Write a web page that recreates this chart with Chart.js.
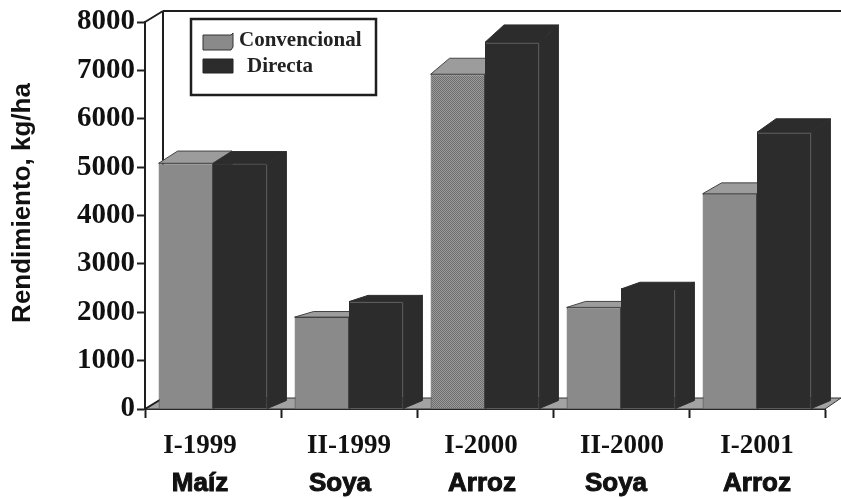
<!DOCTYPE html>
<html>
<head>
<meta charset="utf-8">
<title>Rendimiento</title>
<script src="https://cdn.jsdelivr.net/npm/chart.js@4"></script>
<style>
    html, body { margin: 0; padding: 0; background: #fff; }
    canvas { display: block; }
</style>
</head>
<body>
<canvas id="chart" width="841" height="498"></canvas>
<script>
const periods = ['I-1999', 'II-1999', 'I-2000', 'II-2000', 'I-2001'];
const crops = ['Maíz', 'Soya', 'Arroz', 'Soya', 'Arroz'];
const convencional = [5080, 1900, 6920, 2100, 4450];
const directa = [5070, 2220, 7580, 2480, 5720];
const yTicks = [0, 1000, 2000, 3000, 4000, 5000, 6000, 7000, 8000];

const INK = '#1e1e1e';
const DARK = '#2c2c2c';
const SERIF = '"Liberation Serif", serif';
const SANS = '"Liberation Sans", sans-serif';
// the x labels in the picture are not quite centred on their groups
const labelShift = { x: [-13, 0, -4, 1, 0], x2: [-13, -9, -3, -5, 0] };

function line(ctx, x1, y1, x2, y2) {
    ctx.beginPath();
    ctx.moveTo(x1, y1);
    ctx.lineTo(x2, y2);
    ctx.stroke();
}

function poly(ctx, pts, fill, stroke) {
    ctx.beginPath();
    pts.forEach((p, i) => (i ? ctx.lineTo(p[0], p[1]) : ctx.moveTo(p[0], p[1])));
    ctx.closePath();
    ctx.fillStyle = fill;
    ctx.fill();
    if (stroke) {
        ctx.strokeStyle = stroke;
        ctx.lineWidth = 1;
        ctx.stroke();
    }
}

// the third grey bar is printed with a visible dither
function ditherFill() {
    const tile = document.createElement('canvas');
    tile.width = tile.height = 2;
    const c = tile.getContext('2d');
    c.fillStyle = '#9a9a9a';
    c.fillRect(0, 0, 2, 2);
    c.fillStyle = '#6f6f6f';
    c.fillRect(0, 0, 1, 1);
    c.fillRect(1, 1, 1, 1);
    return c.createPattern(tile, 'repeat');
}

// back wall + floor of the fake 3D box, then top and side faces of the bars
const boxPlugin = {
    id: 'box',
    beforeDatasetsDraw(chart) {
        const { ctx, chartArea: a } = chart;
        const dx = 18, dy = 11;
        ctx.save();
        poly(ctx, [[a.left, a.bottom], [a.left + dx, a.bottom - dy], [841, a.bottom - dy], [a.right, a.bottom]], '#a3a3a3', '#333');
        ctx.strokeStyle = INK;
        ctx.lineWidth = 2;
        line(ctx, a.left + dx, a.top - dy, a.left + dx, a.bottom - dy);
        line(ctx, a.left + dx, a.top - dy, 841, a.top - dy);
        line(ctx, a.left, a.top, a.left + dx, a.top - dy);
        line(ctx, a.left, a.bottom, a.left + dx, a.bottom - dy);

        [0, 1].forEach((index) => {
            const dark = index === 1;
            chart.getDatasetMeta(index).data.forEach((bar) => {
                const half = bar.width / 2;
                const r = bar.x + half, l = bar.x - half;
                const bx = 19;
                const by = 6 + (307 - bar.y) * 0.043;
                poly(ctx, [[l, bar.y], [l + bx, bar.y - by], [r + bx, bar.y - by], [r, bar.y]],
                    dark ? DARK : '#9c9c9c', dark ? DARK : '#444');
                poly(ctx, [[r, bar.y], [r + bx, bar.y - by], [r + bx, bar.base - 8], [r, bar.base]],
                    dark ? DARK : '#6e6e6e', dark ? DARK : '#444');
            });
        });
        ctx.restore();
    }
};

const shiftPlugin = {
    id: 'shift',
    afterUpdate(chart) {
        ['x', 'x2'].forEach((id) => {
            const scale = chart.scales[id];
            scale.getLabelItems(chart.chartArea).forEach((item, i) => {
                item.options.translation[0] += labelShift[id][i];
            });
        });
    }
};

const notesPlugin = {
    id: 'notes',
    afterDraw(chart) {
        const { ctx, data } = chart;
        ctx.save();
        // legend
        ctx.fillStyle = '#fff';
        ctx.fillRect(191, 19, 185, 76);
        ctx.strokeStyle = INK;
        ctx.lineWidth = 2.5;
        ctx.strokeRect(191, 19, 185, 76);
        poly(ctx, [[203, 35], [231, 35], [233, 33], [233, 47], [231, 50], [203, 50]], '#8a8a8a', '#333');
        poly(ctx, [[203, 59], [233, 59], [233, 73], [203, 73]], DARK, '#222');
        ctx.fillStyle = '#222';
        ctx.textBaseline = 'middle';
        ctx.font = 'bold 21px ' + SERIF;
        ctx.fillText(data.datasets[0].label, 239, 41);
        ctx.fillText(data.datasets[1].label, 247, 67);
        // y title
        ctx.translate(23, 203);
        ctx.rotate(-Math.PI / 2);
        ctx.textAlign = 'center';
        ctx.font = 'bold 26px ' + SANS;
        ctx.fillStyle = '#111';
        ctx.fillText('Rendimiento, kg/ha', 0, 0);
        ctx.restore();
    }
};

new Chart(document.getElementById('chart'), {
    type: 'bar',
    data: {
        labels: periods,
        datasets: [
            {
                label: 'Convencional',
                data: convencional,
                backgroundColor: ['#8a8a8a', '#8a8a8a', ditherFill(), '#8a8a8a', '#8a8a8a'],
                borderColor: '#444',
                borderWidth: 1
            },
            { label: 'Directa', data: directa, backgroundColor: DARK, borderColor: DARK, borderWidth: 1 }
        ]
    },
    options: {
        responsive: false,
        animation: false,
        layout: { padding: { top: 22, right: 16 } },
        categoryPercentage: 0.8,
        barPercentage: 1,
        plugins: { legend: { display: false }, tooltip: { enabled: false } },
        scales: {
            y: {
                min: 0,
                max: 8000,
                afterFit(scale) { scale.width = 145; },
                afterBuildTicks(scale) { scale.ticks = yTicks.map((v) => ({ value: v })); },
                border: { color: INK, width: 2 },
                grid: { drawOnChartArea: false, tickLength: 8, tickColor: INK, tickWidth: 2 },
                ticks: { padding: 2, color: '#111', callback: (v) => String(v), font: { family: SERIF, weight: 'bold', size: 29 } }
            },
            x: {
                afterFit(scale) { scale.height = 57; },
                border: { color: INK, width: 2 },
                grid: { drawOnChartArea: false, tickLength: 9, tickColor: INK, tickWidth: 2 },
                ticks: { padding: 12, color: '#111', maxRotation: 0, font: { family: SERIF, weight: 'bold', size: 27 } }
            },
            x2: {
                type: 'category',
                labels: crops,
                position: 'bottom',
                afterFit(scale) { scale.height = 32; },
                border: { display: false },
                grid: { display: false, drawTicks: false },
                ticks: { padding: 2, color: '#111', maxRotation: 0, textStrokeColor: '#111', textStrokeWidth: 1, font: { family: SANS, weight: 'bold', size: 26 } }
            }
        }
    },
    plugins: [boxPlugin, shiftPlugin, notesPlugin]
});
</script>
</body>
</html>
